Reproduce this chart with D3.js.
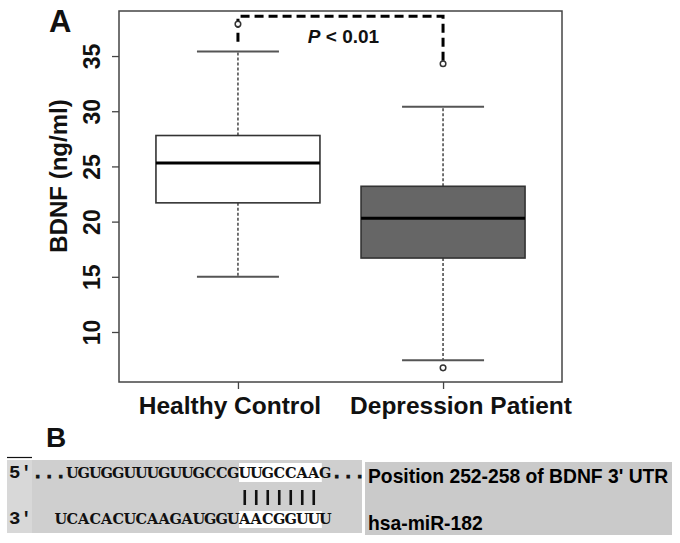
<!DOCTYPE html>
<html><head><meta charset="utf-8">
<script src="https://cdn.jsdelivr.net/npm/d3@7"></script>
<style>
html,body{margin:0;padding:0;background:#fff;}
svg{display:block;}
</style></head>
<body>
<script>
// ---- data ----
const categories = ["Healthy Control", "Depression Patient"];
const q1 = [21.7, 16.7];
const median = [25.3, 20.3];
const q3 = [27.8, 23.2];
const whiskerLow = [15.0, 7.45];
const whiskerHigh = [35.4, 30.4];
const outliers = [[37.9], [34.3, 6.75]];
const yTicks = [10, 15, 20, 25, 30, 35];
const pLabel = ["P", " < 0.01"];
const seq5 = "5'...UGUGGUUUGUUGCCGUUGCCAAG...";
const seq3 = "3'  UCACACUCAAGAUGGUAACGGUUU";
const pairStart = 20, pairCount = 7;
const seqLabels = ["Position 252-258 of BDNF 3' UTR", "hsa-miR-182"];

(function () {
const W = 680, H = 543;
const svg = d3.select("body").append("svg").attr("width", W).attr("height", H);

const pL = 119, pR = 562, pT = 11, pB = 382;
const x = d3.scalePoint().domain(categories).range([pL, pR]).padding(0.58);
const y = d3.scaleLinear().domain([5.47, 39.08]).range([pB, pT]);
const boxW = 164, capW = 82;

const g = svg.append("g");

// frame
g.append("rect").attr("x", pL).attr("y", pT).attr("width", pR - pL).attr("height", pB - pT)
  .attr("fill", "#fff").attr("stroke", "#444").attr("stroke-width", 1.5);

// y axis
const yAxis = d3.axisLeft(y).tickValues(yTicks).tickSize(7).tickFormat(d3.format("d"));
const ya = g.append("g").attr("transform", `translate(${pL},0)`).call(yAxis);
ya.select(".domain").remove();
ya.selectAll(".tick line").attr("stroke", "#444").attr("stroke-width", 1.3);
ya.selectAll(".tick text").attr("transform", "rotate(-90)").attr("x", 0).attr("y", -19).attr("dy", 0)
  .attr("text-anchor", "middle").style("font-family", "Liberation Sans, Arial, sans-serif")
  .style("font-size", "23px").style("font-weight", "bold").attr("fill", "#111");

// x axis
const xAxis = d3.axisBottom(x).tickSize(7).tickFormat("");
const xa = g.append("g").attr("transform", `translate(0,${pB})`).call(xAxis);
xa.select(".domain").remove();
xa.selectAll(".tick line").attr("stroke", "#444").attr("stroke-width", 1.3);

const labelOffsets = [-8, 18];
g.selectAll(".xlab").data(categories).join("text").attr("class", "xlab")
  .attr("x", (d, i) => x(d) + labelOffsets[i]).attr("y", 414)
  .attr("text-anchor", "middle").style("font-family", "Liberation Sans, Arial, sans-serif")
  .style("font-size", "24.5px").style("font-weight", "bold").attr("fill", "#111").text(d => d);

// y label
g.append("text").attr("transform", "translate(67,176) rotate(-90)").attr("text-anchor", "middle")
  .style("font-family", "Liberation Sans, Arial, sans-serif").style("font-size", "24px").style("font-weight", "bold")
  .attr("fill", "#111").text("BDNF (ng/ml)");

// boxes
const boxes = g.selectAll(".box").data(categories).join("g").attr("class", "box");
boxes.append("line").attr("x1", d => x(d)).attr("x2", d => x(d))
  .attr("y1", (d, i) => y(q3[i])).attr("y2", (d, i) => y(whiskerHigh[i]))
  .attr("stroke", "#444").attr("stroke-width", 1.5).attr("stroke-dasharray", "3,2");
boxes.append("line").attr("x1", d => x(d)).attr("x2", d => x(d))
  .attr("y1", (d, i) => y(q1[i])).attr("y2", (d, i) => y(whiskerLow[i]))
  .attr("stroke", "#444").attr("stroke-width", 1.5).attr("stroke-dasharray", "3,2");
boxes.append("line").attr("x1", d => x(d) - capW / 2).attr("x2", d => x(d) + capW / 2)
  .attr("y1", (d, i) => y(whiskerHigh[i])).attr("y2", (d, i) => y(whiskerHigh[i]))
  .attr("stroke", "#555").attr("stroke-width", 2);
boxes.append("line").attr("x1", d => x(d) - capW / 2).attr("x2", d => x(d) + capW / 2)
  .attr("y1", (d, i) => y(whiskerLow[i])).attr("y2", (d, i) => y(whiskerLow[i]))
  .attr("stroke", "#555").attr("stroke-width", 2);
boxes.append("rect").attr("x", d => x(d) - boxW / 2).attr("width", boxW)
  .attr("y", (d, i) => y(q3[i])).attr("height", (d, i) => y(q1[i]) - y(q3[i]))
  .attr("fill", (d, i) => i === 0 ? "#fff" : "#666").attr("stroke", "#333").attr("stroke-width", 1.6);
boxes.append("line").attr("x1", d => x(d) - boxW / 2).attr("x2", d => x(d) + boxW / 2)
  .attr("y1", (d, i) => y(median[i])).attr("y2", (d, i) => y(median[i]))
  .attr("stroke", "#000").attr("stroke-width", 3);

// significance bracket
const x1 = x(categories[0]), x2 = x(categories[1]);
g.append("path").attr("d", `M${x1},${y(36.3)}V${y(38.6)}H${x2}V${y(outliers[1][0])}`)
  .attr("fill", "none").attr("stroke", "#000").attr("stroke-width", 3).attr("stroke-dasharray", "9,5");

// outliers
outliers.forEach((arr, i) => {
  g.selectAll(null).data(arr).join("circle").attr("cx", x(categories[i])).attr("cy", d => y(d))
    .attr("r", 2.8).attr("fill", "#fff").attr("stroke", "#333").attr("stroke-width", 1.5);
});

const pt = g.append("text").attr("x", (x1 + x2) / 2 + 3).attr("y", 43).attr("text-anchor", "middle")
  .style("font-family", "Liberation Sans, Arial, sans-serif").style("font-size", "19px").style("font-weight", "bold").attr("fill", "#111");
pt.append("tspan").style("font-style", "italic").text(pLabel[0]);
pt.append("tspan").text(pLabel[1]);

// panel letters
svg.append("text").attr("x", 49).attr("y", 32).style("font-family", "Liberation Sans, Arial, sans-serif")
  .style("font-size", "31px").style("font-weight", "bold").attr("fill", "#111").text("A");
svg.append("text").attr("x", 46).attr("y", 447).style("font-family", "Liberation Sans, Arial, sans-serif")
  .style("font-size", "28px").style("font-weight", "bold").attr("fill", "#111").text("B");

// ---- panel B ----
const b = svg.append("g");
const cx = d3.scaleLinear().domain([0, 1]).range([9, 20.5]); // char index -> left x
b.append("rect").attr("x", 7).attr("y", 460).attr("width", 355).attr("height", 73).attr("fill", "#cfcfcf");
b.append("rect").attr("x", 7).attr("y", 460).attr("width", 25).attr("height", 73).attr("fill", "#d8d8d8");
b.append("line").attr("x1", 7).attr("x2", 32).attr("y1", 457.5).attr("y2", 457.5).attr("stroke", "#111").attr("stroke-width", 1.2);
b.append("rect").attr("x", 365).attr("y", 462).attr("width", 307).attr("height", 73).attr("fill", "#cacaca");

// highlights
b.append("rect").attr("x", cx(pairStart)).attr("y", 463).attr("width", cx(pairStart + 7.2) - cx(pairStart)).attr("height", 19).attr("fill", "#fff");
b.append("rect").attr("x", cx(pairStart)).attr("y", 511).attr("width", cx(pairStart + 7.2) - cx(pairStart)).attr("height", 17).attr("fill", "#fff");

const isLetter = c => /[A-Z]/.test(c);
[[seq5, 478], [seq3, 524]].forEach(([s, by]) => {
  b.selectAll(null).data(s.split("")).join("text")
    .attr("x", (d, i) => cx(i + 0.5)).attr("y", by).attr("text-anchor", "middle")
    .style("font-family", d => isLetter(d) ? "DejaVu Serif, serif" : "Liberation Mono, monospace")
    .style("font-size", d => isLetter(d) ? "14.5px" : "19px").style("font-weight", "bold").attr("fill", "#111")
    .attr("stroke", d => d === "." ? "#111" : "none").attr("stroke-width", 0.8)
    .text(d => d);
});
b.selectAll(".pair").data(d3.range(pairStart, pairStart + pairCount)).join("line").attr("class", "pair")
  .attr("x1", d => cx(d + 0.5)).attr("x2", d => cx(d + 0.5)).attr("y1", 490).attr("y2", 505)
  .attr("stroke", "#111").attr("stroke-width", 2.6);

b.selectAll(".slab").data(seqLabels).join("text").attr("class", "slab")
  .attr("x", 368).attr("y", (d, i) => i === 0 ? 483 : 530)
  .style("font-family", "Liberation Sans, Arial, sans-serif").style("font-size", "19.3px").style("font-weight", "bold")
  .attr("fill", "#000")
  .text(d => d);
})();
</script>
</body></html>
